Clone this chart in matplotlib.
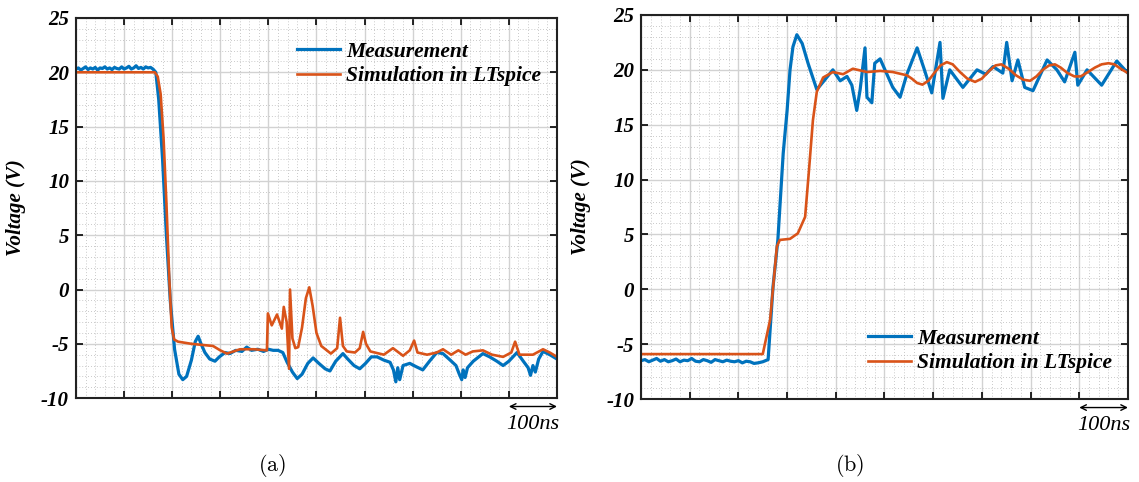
# Measured vs LTspice simulated switching waveforms, (a) turn-off and (b) turn-on
import matplotlib.pyplot as plt
from matplotlib.ticker import MultipleLocator

plt.rcParams['mathtext.fontset'] = 'cm'
plt.rcParams['axes.unicode_minus'] = False

BLUE = '#0072BD'
ORANGE = '#D95319'
SERIF = 'Liberation Serif'

# ---- (a) turn-off, time in ns ----
meas_a_t = [0, 5, 10, 15, 20, 25, 30, 35, 40, 45, 50, 55, 60, 65, 70, 75, 80, 85, 90, 95,
            100, 105, 110, 115, 120, 125, 130, 135, 140, 145, 150, 155, 160, 166, 172, 180,
            188, 196, 205, 214, 222, 230, 240, 248, 254, 260, 268, 278, 289, 298, 310, 320,
            332, 345, 355, 365, 378, 390, 400, 410, 420, 430, 439, 450, 460, 470, 482, 493,
            505, 518, 528, 540, 555, 565, 578, 590, 602, 614, 626, 640, 653, 660, 665, 669,
            673, 680, 694, 707, 721, 735, 750, 763, 778, 790, 797, 802, 805, 809, 814, 826,
            846, 860, 875, 888, 900, 917, 930, 940, 945, 950, 955, 962, 971, 985, 1000]
meas_a_v = [20.3, 20.4, 20.2, 20.35, 20.5, 20.25, 20.4, 20.3, 20.45, 20.2, 20.4, 20.35, 20.5,
            20.3, 20.4, 20.25, 20.45, 20.35, 20.3, 20.5, 20.3, 20.4, 20.55, 20.3, 20.4, 20.6,
            20.35, 20.45, 20.3, 20.5, 20.4, 20.45, 20.3, 20.0, 17.5, 12.0, 5.0, -1.0, -5.5,
            -7.8, -8.3, -8.0, -6.5, -4.8, -4.3, -5.0, -5.8, -6.4, -6.6, -6.2, -5.8, -5.9,
            -5.6, -5.7, -5.3, -5.6, -5.5, -5.7, -5.5, -5.6, -5.6, -5.8, -6.7, -7.6, -8.2,
            -7.8, -6.8, -6.3, -6.8, -7.3, -7.5, -6.6, -5.9, -6.4, -7.0, -7.3, -6.8, -6.2,
            -6.2, -6.5, -6.7, -7.4, -8.5, -7.2, -8.3, -7.0, -6.8, -7.1, -7.4, -6.6, -5.8,
            -5.9, -6.5, -7.0, -7.8, -8.3, -7.4, -8.1, -7.2, -6.6, -5.9, -6.2, -6.6, -7.0,
            -6.6, -5.8, -6.6, -7.2, -7.9, -7.0, -7.6, -6.4, -5.7, -6.0, -6.4]

sim_a_t = [0, 164, 170, 176, 182, 188, 194, 199, 204, 212, 240, 285, 300, 314, 341, 370, 397,
           399, 407, 418, 428, 432, 438, 443, 445, 450, 456, 462, 470, 478, 485, 492, 500,
           510, 530, 543, 549, 555, 563, 580, 590, 597, 603, 612, 640, 659, 680, 694, 703,
           710, 730, 750, 763, 780, 795, 810, 825, 846, 865, 888, 905, 913, 922, 950, 971,
           985, 1000]
sim_a_v = [20.0, 20.0, 19.6, 18.0, 14.0, 8.0, 1.0, -3.5, -4.6, -4.8, -5.0, -5.2, -5.6, -5.9,
           -5.5, -5.5, -5.6, -2.2, -3.3, -2.3, -3.6, -1.6, -3.0, -7.3, 0.0, -4.5, -5.4, -5.3,
           -3.5, -0.8, 0.2, -1.5, -4.0, -5.2, -5.9, -5.4, -2.6, -5.2, -5.7, -5.8, -5.4, -3.9,
           -5.0, -5.7, -6.0, -5.4, -6.1, -5.6, -4.7, -5.8, -6.0, -5.8, -5.5, -6.0, -5.6,
           -6.0, -5.7, -5.6, -6.0, -6.2, -5.8, -4.8, -6.0, -6.0, -5.5, -5.8, -6.2]

# ---- (b) turn-on, time in ns ----
meas_b_t = [0, 8, 16, 24, 32, 40, 48, 56, 64, 72, 80, 88, 96, 104, 112, 120, 128, 136, 144,
            152, 160, 168, 176, 184, 192, 200, 208, 216, 224, 232, 240, 250, 261, 271, 281,
            292, 300, 306, 312, 320, 331, 343, 361, 374, 394, 409, 423, 433, 443, 450, 460,
            464, 474, 480, 491, 501, 517, 532, 546, 567, 582, 597, 614, 620, 634, 661, 690,
            708, 723, 743, 751, 762, 774, 788, 805, 834, 854, 870, 891, 897, 916, 946, 977,
            1000]
meas_b_v = [-6.5, -6.4, -6.6, -6.45, -6.3, -6.55, -6.4, -6.6, -6.5, -6.35, -6.6, -6.45, -6.5,
            -6.3, -6.55, -6.6, -6.4, -6.5, -6.65, -6.4, -6.5, -6.6, -6.45, -6.55, -6.6, -6.5,
            -6.7, -6.55, -6.6, -6.75, -6.7, -6.6, -6.4, 0.2, 4.5, 12.4, 16.3, 20.0, 22.1,
            23.2, 22.4, 20.6, 18.2, 18.9, 20.0, 19.0, 19.4, 18.6, 16.3, 18.2, 22.0, 17.5,
            17.0, 20.6, 21.0, 20.0, 18.4, 17.5, 19.6, 22.0, 20.0, 17.9, 22.5, 17.4, 20.0,
            18.4, 20.0, 19.6, 20.3, 19.7, 22.5, 19.0, 20.9, 18.4, 18.1, 20.9, 20.0, 18.9,
            21.6, 18.6, 20.0, 18.6, 20.8, 19.7]

sim_b_t = [0, 250, 265, 279, 285, 306, 322, 337, 345, 353, 361, 374, 394, 415, 435, 464, 491,
           517, 546, 556, 567, 578, 590, 602, 615, 628, 640, 655, 670, 686, 700, 715, 728,
           740, 755, 770, 785, 799, 812, 825, 838, 850, 862, 876, 890, 903, 918, 932, 946,
           960, 972, 985, 1000]
sim_b_v = [-5.9, -5.9, -2.8, 3.9, 4.5, 4.6, 5.1, 6.6, 10.9, 15.4, 18.0, 19.3, 19.8, 19.6,
           20.1, 19.8, 19.9, 19.8, 19.5, 19.2, 18.8, 18.65, 19.0, 19.7, 20.4, 20.7, 20.5,
           19.8, 19.2, 18.9, 19.2, 19.9, 20.4, 20.5, 20.1, 19.5, 19.1, 19.0, 19.4, 20.0,
           20.4, 20.5, 20.2, 19.7, 19.4, 19.4, 19.8, 20.2, 20.5, 20.6, 20.5, 20.1, 19.7]

fig = plt.figure(figsize=(11.39, 4.82), dpi=100)
ax_a = fig.add_axes([0.0667, 0.174, 0.4223, 0.7887])
ax_b = fig.add_axes([0.5628, 0.172, 0.4275, 0.797])

panels = [
    (ax_a, meas_a_t, meas_a_v, sim_a_t, sim_a_v, 'upper right', (0.985, 0.96), '(a)', 0.239),
    (ax_b, meas_b_t, meas_b_v, sim_b_t, sim_b_v, 'lower right', (0.985, 0.045), '(b)', 0.746),
]

for ax, mt, mv, st, sv, loc, anchor, tag, tag_x in panels:
    ax.plot(mt, mv, color=BLUE, lw=2.3, label='Measurement')
    ax.plot(st, sv, color=ORANGE, lw=1.9, label='Simulation in LTspice')
    ax.set_xlim(0, 1000)
    ax.set_ylim(-10, 25)
    ax.xaxis.set_major_locator(MultipleLocator(100))
    ax.xaxis.set_minor_locator(MultipleLocator(20))
    ax.yaxis.set_major_locator(MultipleLocator(5))
    ax.yaxis.set_minor_locator(MultipleLocator(1))
    ax.set_xticklabels([])
    ax.tick_params(which='major', direction='in', length=5, width=1.2,
                   top=True, right=True, labelsize=15, pad=5)
    ax.tick_params(which='minor', length=0)
    for lab in ax.get_yticklabels():
        lab.set_fontfamily(SERIF)
        lab.set_fontweight('bold')
        lab.set_fontstyle('italic')
    ax.grid(which='major', color='#d2d2d2', lw=1.0)
    ax.grid(which='minor', color='#b8b8b8', lw=0.6, linestyle=(0, (1, 2.5)))
    ax.set_axisbelow(True)
    for sp in ax.spines.values():
        sp.set_linewidth(1.5)
        sp.set_color('#222222')
    ax.set_ylabel('Voltage (V)', family=SERIF, weight='bold', style='italic', fontsize=15)
    ax.yaxis.set_label_coords(-0.103, 0.5)
    ax.legend(loc=loc, bbox_to_anchor=anchor, frameon=False, handlelength=2.0,
              handletextpad=0.3, labelspacing=0.2, borderaxespad=0,
              prop=dict(family=SERIF, weight='bold', style='italic', size=15.5))
    ax.annotate('', xy=(1000, -0.022), xytext=(900, -0.022),
                xycoords=('data', 'axes fraction'), textcoords=('data', 'axes fraction'),
                arrowprops=dict(arrowstyle='<->', lw=1.0, color='black',
                                shrinkA=0, shrinkB=0), annotation_clip=False)
    ax.text(950, -0.07, '100ns', transform=ax.get_xaxis_transform(), ha='center',
            va='center', family=SERIF, style='italic', fontsize=16)
    fig.text(tag_x, 0.035, r'$\mathrm{' + tag + '}$', ha='center', va='center', fontsize=16)

fig.savefig('out.png', dpi=100)
